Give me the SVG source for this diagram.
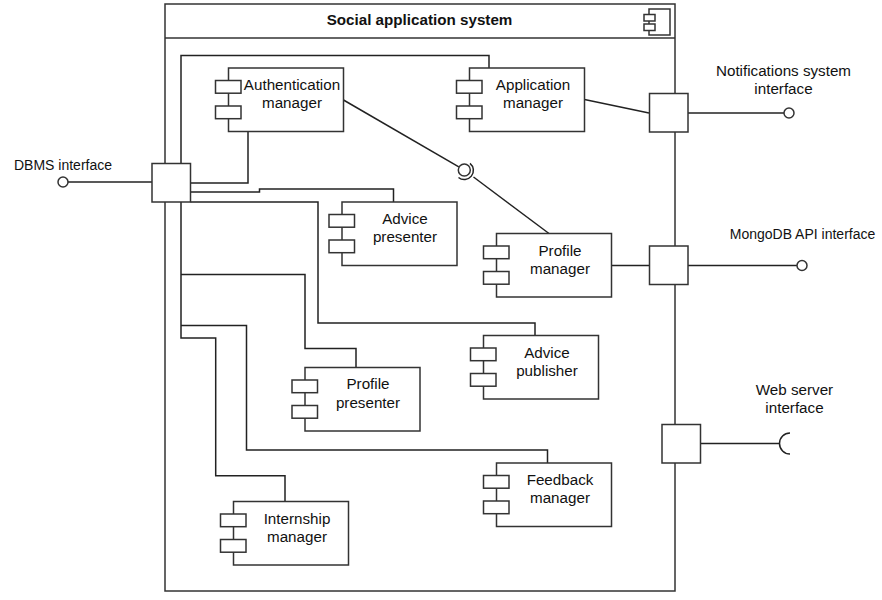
<svg xmlns="http://www.w3.org/2000/svg" width="882" height="600" viewBox="0 0 882 600">
<style>
.s{fill:#fff;stroke:#333;stroke-width:1.5}
.c{fill:none;stroke:#222;stroke-width:1.5}
text{font-family:"Liberation Sans",Arial,sans-serif;font-size:15.2px;fill:#111;text-anchor:middle}
.t{font-weight:bold;font-size:15.2px}
.m{font-size:14px}
</style>
<defs>
<g id="comp">
<rect class="s" width="115" height="63.5"/>
<rect class="s" x="-13" y="12.500" width="25.500" height="12.700"/>
<rect class="s" x="-13" y="38" width="25.500" height="12.700"/>
</g>
</defs>
<rect width="882" height="600" fill="#fff"/>
<g id="system">
<rect class="s" x="165" y="4" width="510" height="587"/>
<path class="s" d="M165 38H675" fill="none"/>
<text class="t" x="419.500" y="25">Social application system</text>
<rect class="s" x="649" y="9" width="21" height="26"/>
<rect class="s" x="644" y="14.500" width="11" height="6.500"/>
<rect class="s" x="644" y="24" width="11" height="6.500"/>
</g>
<g id="connectors">
<path class="c" d="M181 163.500V55.500H489V68"/>
<path class="c" d="M248 131.500V183H190.500"/>
<path class="c" d="M190.500 192H259.500V189H393.500V202"/>
<path class="c" d="M190.500 202H318V323H535V335.500"/>
<path class="c" d="M181 202V338H215.700V475.700H285V501.500"/>
<path class="c" d="M181 274.500H305V348.500H356V367.500"/>
<path class="c" d="M181 325.500H246.500V450H547.500V463"/>
<path class="c" d="M584.500 99.500L649 113"/>
<path class="c" d="M343.500 100L458.800 166.800"/>
<path class="c" d="M473.500 177L549 233.500"/>
<path class="c" d="M611.500 265.500H649.500"/>
<path class="c" d="M68 182H152"/>
<path class="c" d="M688 113H784"/>
<path class="c" d="M688 265.500H797"/>
<path class="c" d="M700.500 443.500H779"/>
</g>
<g id="auth"><use href="#comp" x="228.500" y="68"/><text x="292" y="90">Authentication</text><text x="292" y="108">manager</text></g>
<g id="app"><use href="#comp" x="469.500" y="68"/><text x="533" y="90">Application</text><text x="533" y="108">manager</text></g>
<g id="advice-presenter"><use href="#comp" x="342" y="202"/><text x="405" y="224">Advice</text><text x="405" y="242">presenter</text></g>
<g id="profile-manager"><use href="#comp" x="496.500" y="233.500"/><text x="560" y="255.500">Profile</text><text x="560" y="274">manager</text></g>
<g id="advice-publisher"><use href="#comp" x="483.500" y="335.500"/><text x="547" y="358">Advice</text><text x="547" y="376">publisher</text></g>
<g id="profile-presenter"><use href="#comp" x="305" y="367.500"/><text x="368" y="389">Profile</text><text x="368" y="408">presenter</text></g>
<g id="feedback-manager"><use href="#comp" x="496.500" y="463"/><text x="560" y="485">Feedback</text><text x="560" y="503">manager</text></g>
<g id="internship-manager"><use href="#comp" x="233.500" y="501.500"/><text x="297" y="524">Internship</text><text x="297" y="542">manager</text></g>
<g id="port-dbms"><rect class="s" x="152" y="163.500" width="38.500" height="38.500"/></g>
<g id="port-notifications"><rect class="s" x="649.500" y="93.500" width="38.500" height="38.500"/></g>
<g id="port-mongodb"><rect class="s" x="649.500" y="246" width="38.500" height="38.500"/></g>
<g id="port-web"><rect class="s" x="662" y="424.500" width="38.500" height="38.500"/></g>
<g id="lollipop-internal">
<circle class="s" cx="464.300" cy="170" r="6"/>
<path class="c" d="M470 163.300A9 9 0 0 1 458.500 177.500"/>
</g>
<g id="dbms-interface"><circle class="s" cx="63" cy="182" r="5"/><text class="m" x="63" y="170">DBMS interface</text></g>
<g id="notifications-interface"><circle class="s" cx="789" cy="113" r="5"/><text x="783.500" y="76">Notifications system</text><text x="783.500" y="94">interface</text></g>
<g id="mongodb-interface"><circle class="s" cx="802" cy="265.500" r="5"/><text class="m" x="802.500" y="239">MongoDB API interface</text></g>
<g id="web-interface"><path class="c" d="M790 433A10.500 10.500 0 0 0 790 454"/><text x="794.500" y="395">Web server</text><text x="794.500" y="413">interface</text></g>
</svg>
